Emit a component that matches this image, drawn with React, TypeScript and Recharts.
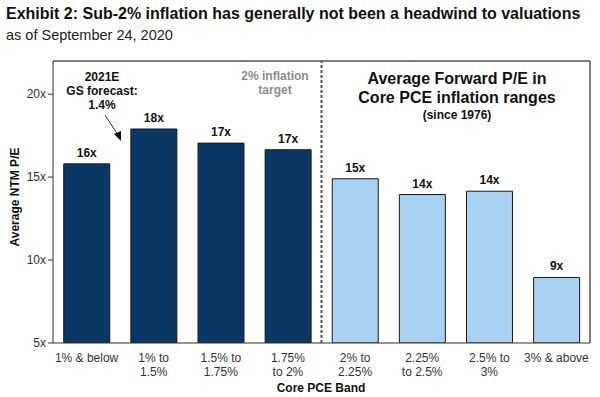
import React from "react"
import {
    Bar,
    BarChart,
    Cell,
    Customized,
    LabelList,
    ReferenceLine,
    XAxis,
    YAxis,
} from "recharts"

// Core PCE bands and average forward P/E
const bands = [
    "1% & below",
    "1% to\n1.5%",
    "1.5% to\n1.75%",
    "1.75%\nto 2%",
    "2% to\n2.25%",
    "2.25%\nto 2.5%",
    "2.5% to\n3%",
    "3% & above",
]
const peValues = [15.8, 17.9, 17.05, 16.65, 14.9, 13.95, 14.15, 8.95]
const yTicks = [5, 10, 15, 20]
const boundaryTicks = [0, 1, 2, 3, 4, 5, 6, 7, 8]

const data = bands.map((name, i) => ({ name, pe: peValues[i], pos: i + 0.5 }))

const NAVY = "#0b3764"
const LIGHT = "#a9d1f1"
const FONT = "'Liberation Sans', Arial, sans-serif"

const BandTick = ({ x, y, payload }: any) => {
    const lines = String(payload.value).split("\n")
    return (
        <text x={x} y={y} textAnchor="middle" fontSize={12} fill="#333" fontFamily={FONT}>
            {lines.map((l, i) => (
                <tspan key={i} x={x} dy={i === 0 ? 11 : 14}>
                    {l}
                </tspan>
            ))}
        </text>
    )
}

// boundary tick marks between bands
const EdgeTick = ({ x, y }: any) => <line x1={x} x2={x} y1={y} y2={y + 5} stroke="#333" strokeWidth={1} />

const Notes = () => (
    <g fontFamily={FONT}>
        <text x={102} y={81} textAnchor="middle" fontSize={12} fontWeight="bold" fill="#111">
            <tspan x={102}>2021E</tspan>
            <tspan x={102} dy={14}>GS forecast:</tspan>
            <tspan x={102} dy={14}>1.4%</tspan>
        </text>
        <line x1={105} y1={115} x2={118} y2={135} stroke="#333" strokeWidth={1} />
        <polygon points="121,141 114,134 121,131" fill="#111" />
        <text x={275} y={80} textAnchor="middle" fontSize={12} fontWeight="bold" fill="#8c8c8c">
            <tspan x={275}>2% inflation</tspan>
            <tspan x={275} dy={14}>target</tspan>
        </text>
        <text x={457} y={84} textAnchor="middle" fontSize={16} fontWeight="bold" fill="#111">
            <tspan x={457}>Average Forward P/E in</tspan>
            <tspan x={457} dy={19}>Core PCE inflation ranges</tspan>
        </text>
        <text x={457} y={119} textAnchor="middle" fontSize={12} fontWeight="bold" fill="#111">
            (since 1976)
        </text>
        <text x={321} y={392} textAnchor="middle" fontSize={12} fontWeight="bold" fill="#111">
            Core PCE Band
        </text>
        <text x={19} y={197} transform="rotate(-90 19 197)" textAnchor="middle" fontSize={12} fontWeight="bold" fill="#111">
            Average NTM P/E
        </text>
    </g>
)

export default function App() {
    return (
        <div style={{ position: "fixed", left: 0, top: 0, width: 600, height: 397, background: "#fff", fontFamily: FONT }}>
            <div style={{ position: "absolute", left: 6, top: 5, fontSize: 16, fontWeight: "bold", color: "#111", whiteSpace: "nowrap" }}>
                Exhibit 2: Sub-2% inflation has generally not been a headwind to valuations
            </div>
            <div style={{ position: "absolute", left: 6, top: 27, fontSize: 14.5, color: "#222", whiteSpace: "nowrap" }}>
                as of September 24, 2020
            </div>
            <BarChart
                width={600}
                height={397}
                data={data}
                margin={{ top: 61, right: 10, bottom: 14, left: 13 }}
                barCategoryGap="16%"
            >
                <XAxis
                    xAxisId="edge"
                    dataKey="pos"
                    type="number"
                    domain={[0, 8]}
                    allowDataOverflow
                    ticks={boundaryTicks}
                    interval={0}
                    tick={<EdgeTick />}
                    tickSize={0}
                    tickMargin={0}
                    tickLine={false}
                    axisLine={false}
                    height={0}
                />
                <XAxis
                    dataKey="name"
                    xAxisId="cat"
                    interval={0}
                    tick={<BandTick />}
                    tickLine={false}
                    axisLine={{ stroke: "#333" }}
                    height={40}
                />
                <YAxis
                    domain={[5, 22]}
                    ticks={yTicks}
                    allowDataOverflow
                    tickFormatter={(v) => `${v}x`}
                    tick={{ fill: "#333", fontSize: 12, fontFamily: FONT }}
                    tickSize={5}
                    tickLine={{ stroke: "#333" }}
                    axisLine={{ stroke: "#333" }}
                    width={40}
                />
                <ReferenceLine y={22} stroke="#555" strokeWidth={1.5} />
                <ReferenceLine xAxisId="edge" x={8} stroke="#555" strokeWidth={1.5} />
                <ReferenceLine xAxisId="edge" x={4} stroke="#555" strokeDasharray="3 2" strokeWidth={2} />
                <Bar dataKey="pe" xAxisId="cat" stroke="#1a1a1a" strokeWidth={1} isAnimationActive={false}>
                    {data.map((d, i) => (
                        <Cell key={d.name} fill={i < 4 ? NAVY : LIGHT} />
                    ))}
                    <LabelList
                        dataKey="pe"
                        position="top"
                        offset={7}
                        formatter={(v: any) => `${Math.round(v)}x`}
                        style={{ fontSize: 12, fontWeight: "bold", fill: "#111", fontFamily: FONT }}
                    />
                </Bar>
                <Customized component={Notes} />
            </BarChart>
        </div>
    )
}
